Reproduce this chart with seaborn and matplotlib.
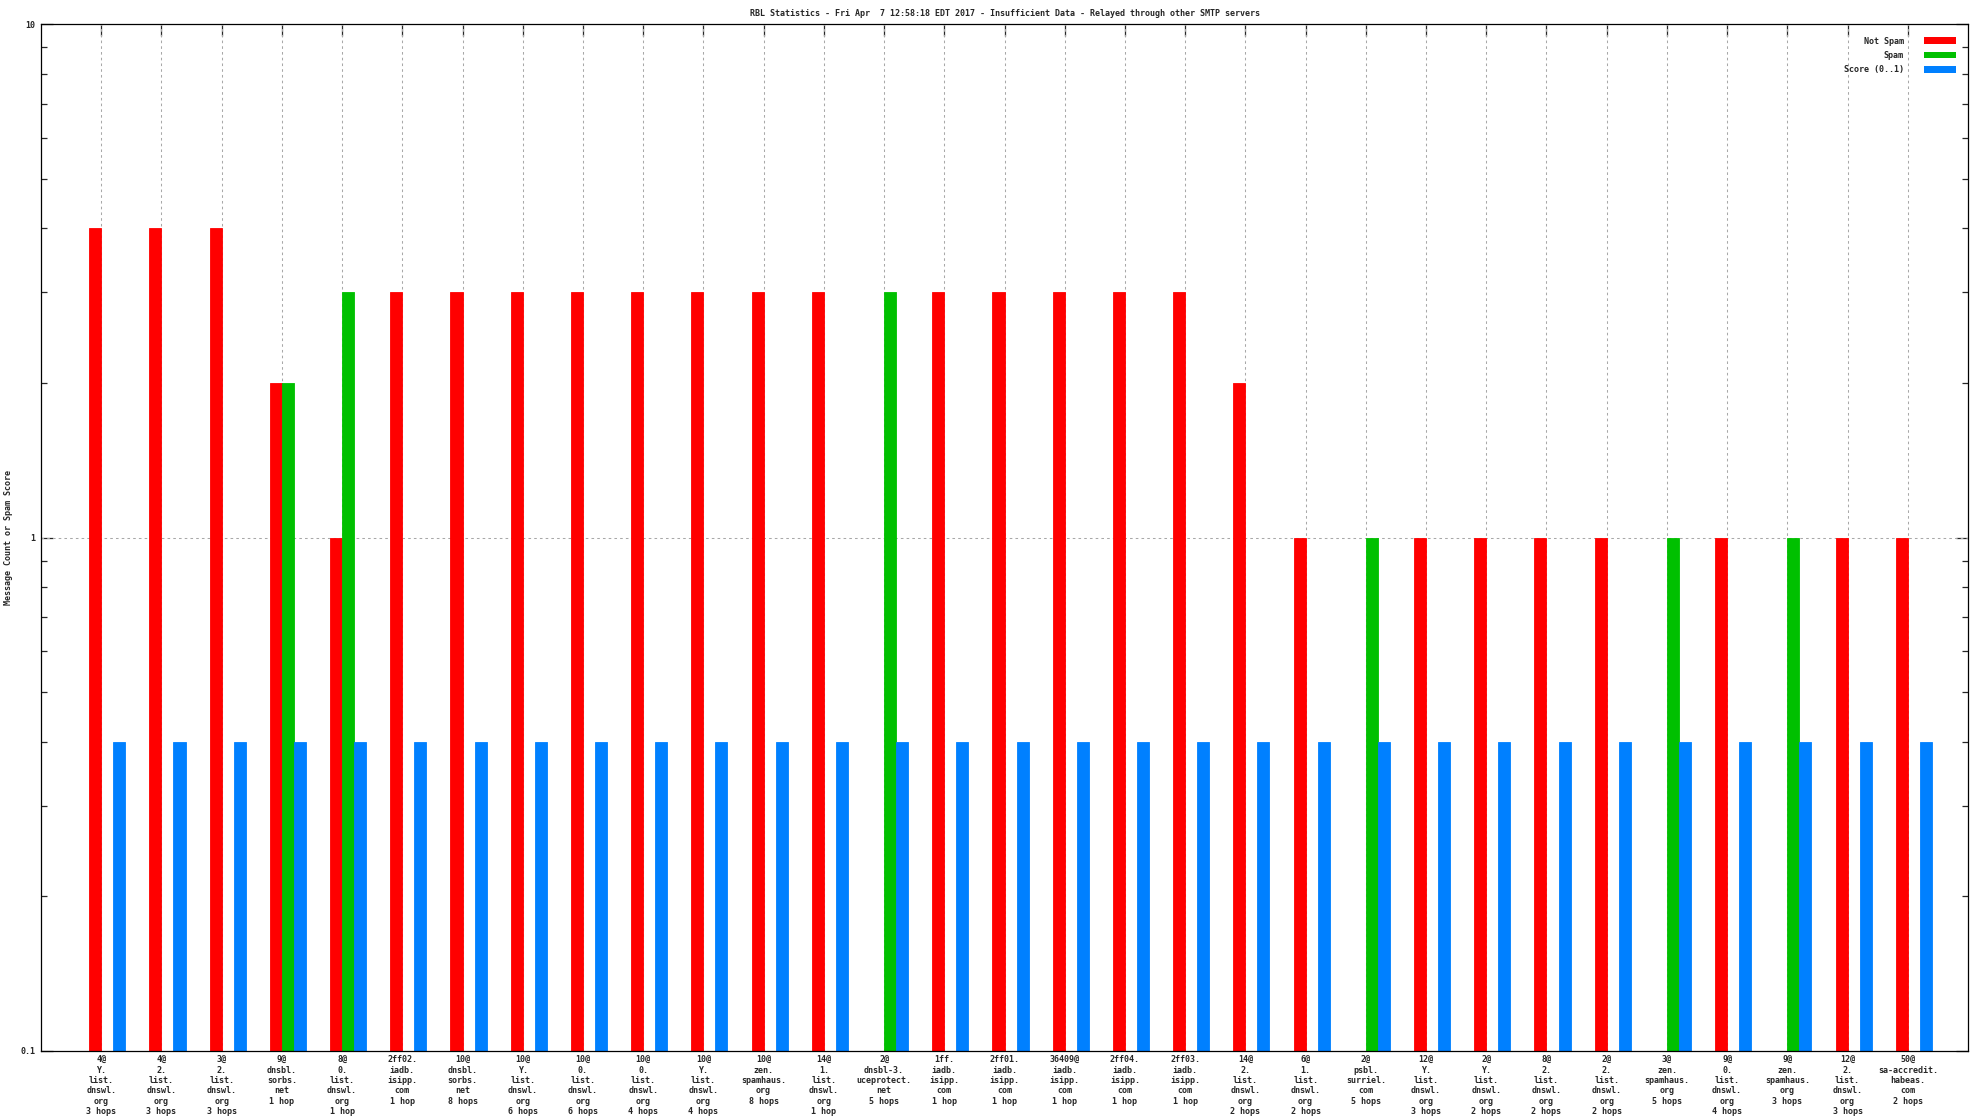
import numpy as np
import pandas as pd
import matplotlib
matplotlib.use("Agg")
import matplotlib.pyplot as plt
import seaborn as sns
from matplotlib.patches import Patch
from matplotlib.ticker import LogLocator, FixedLocator, FuncFormatter

# tick labels (one per blocklist / hop combination)
categories = [
    "4@\nY.\nlist.\ndnswl.\norg\n3 hops",
    "4@\n2.\nlist.\ndnswl.\norg\n3 hops",
    "3@\n2.\nlist.\ndnswl.\norg\n3 hops",
    "9@\ndnsbl.\nsorbs.\nnet\n1 hop",
    "8@\n0.\nlist.\ndnswl.\norg\n1 hop",
    "2ff02.\niadb.\nisipp.\ncom\n1 hop",
    "10@\ndnsbl.\nsorbs.\nnet\n8 hops",
    "10@\nY.\nlist.\ndnswl.\norg\n6 hops",
    "10@\n0.\nlist.\ndnswl.\norg\n6 hops",
    "10@\n0.\nlist.\ndnswl.\norg\n4 hops",
    "10@\nY.\nlist.\ndnswl.\norg\n4 hops",
    "10@\nzen.\nspamhaus.\norg\n8 hops",
    "14@\n1.\nlist.\ndnswl.\norg\n1 hop",
    "2@\ndnsbl-3.\nuceprotect.\nnet\n5 hops",
    "1ff.\niadb.\nisipp.\ncom\n1 hop",
    "2ff01.\niadb.\nisipp.\ncom\n1 hop",
    "36409@\niadb.\nisipp.\ncom\n1 hop",
    "2ff04.\niadb.\nisipp.\ncom\n1 hop",
    "2ff03.\niadb.\nisipp.\ncom\n1 hop",
    "14@\n2.\nlist.\ndnswl.\norg\n2 hops",
    "6@\n1.\nlist.\ndnswl.\norg\n2 hops",
    "2@\npsbl.\nsurriel.\ncom\n5 hops",
    "12@\nY.\nlist.\ndnswl.\norg\n3 hops",
    "2@\nY.\nlist.\ndnswl.\norg\n2 hops",
    "8@\n2.\nlist.\ndnswl.\norg\n2 hops",
    "2@\n2.\nlist.\ndnswl.\norg\n2 hops",
    "3@\nzen.\nspamhaus.\norg\n5 hops",
    "9@\n0.\nlist.\ndnswl.\norg\n4 hops",
    "9@\nzen.\nspamhaus.\norg\n3 hops",
    "12@\n2.\nlist.\ndnswl.\norg\n3 hops",
    "50@\nsa-accredit.\nhabeas.\ncom\n2 hops",
]

# 0 = no bar
not_spam = [4, 4, 4, 2, 1, 3, 3, 3, 3, 3, 3, 3, 3, 0, 3, 3, 3, 3, 3, 2,
            1, 0, 1, 1, 1, 1, 0, 1, 0, 1, 1]
spam = [0, 0, 0, 2, 3, 0, 0, 0, 0, 0, 0, 0, 0, 3, 0, 0, 0, 0, 0, 0,
        0, 1, 0, 0, 0, 0, 1, 0, 1, 0, 0]
score = [0.4] * 31

series_names = ["Not Spam", "Spam", "Score (0..1)"]
series_colors = ["#ff0000", "#00c000", "#0080ff"]

title = ("RBL Statistics - Fri Apr  7 12:58:18 EDT 2017 - "
         "Insufficient Data - Relayed through other SMTP servers")

sns.set_style("white")
plt.rcParams["font.family"] = ["DejaVu Sans Mono"]
plt.rcParams["font.size"] = 6

fig = plt.figure(figsize=(19.84, 11.16), dpi=100)
ax = fig.add_axes([41 / 1984, 1 - 1051 / 1116, (1968 - 41) / 1984, (1051 - 24) / 1116])

pos = np.arange(len(categories))
offsets = [-0.1, 0.1, 0.3]
for vals, off, col in zip([not_spam, spam, score], offsets, series_colors):
    d = pd.DataFrame({"x": pos + off, "y": vals})
    d = d[d["y"] > 0]
    sns.barplot(data=d, x="x", y="y", native_scale=True, width=0.2,
                color=col, saturation=1, linewidth=0.6, edgecolor=col,
                errorbar=None, ax=ax)

# bars on top of the dotted grid
for p in ax.patches:
    p.set_zorder(3)

ax.set_yscale("log")
ax.set_ylim(0.1, 10)
ax.set_xlim(-1, 31)

# grid
for p in pos:
    ax.axvline(p, color="#a8a8a8", lw=0.75, ls=(0, (2.5, 3)), zorder=1)
ax.axhline(1, color="#a8a8a8", lw=0.75, ls=(0, (2.5, 3)), zorder=1)

ax.xaxis.set_major_locator(FixedLocator(pos))
ax.set_xticklabels(categories)
for lbl in ax.get_xticklabels():
    lbl.set_linespacing(1.2)
    lbl.set_fontweight("bold")
ax.tick_params(axis="x", which="major", direction="in", top=True, bottom=False,
               labelbottom=True, length=8.5, width=0.9, pad=3, labelsize=6)

ax.yaxis.set_major_locator(LogLocator(base=10, numticks=5))
ax.yaxis.set_minor_locator(LogLocator(base=10, subs=np.arange(2, 10), numticks=20))
ax.yaxis.set_major_formatter(FuncFormatter(lambda v, _: "%g" % v))
ax.yaxis.set_minor_formatter(FuncFormatter(lambda v, _: ""))
ax.tick_params(axis="y", which="major", direction="in", left=True, right=True,
               length=8.5, width=0.9, pad=4, labelsize=6)
ax.tick_params(axis="y", which="minor", direction="in", left=True, right=True,
               length=4.3, width=0.9)
for lbl in ax.get_yticklabels():
    lbl.set_fontweight("bold")

for s in ax.spines.values():
    s.set_visible(True)
    s.set_color("black")
    s.set_linewidth(0.9)
    s.set_zorder(4)

ax.set_xlabel("")
ax.set_ylabel("Message Count or Spam Score", fontsize=6, labelpad=5,
              fontweight="bold")
ax.set_title(title, fontsize=6, pad=6, fontweight="bold")

handles = [Patch(facecolor=c, edgecolor="none") for c in series_colors]
leg = ax.legend(handles, series_names, loc="upper right", markerfirst=False,
                frameon=False, fontsize=6, handlelength=3.8, handleheight=0.8,
                handletextpad=2.4, labelspacing=0.65, borderpad=0.2,
                borderaxespad=1.3)
for t in leg.get_texts():
    t.set_fontweight("bold")

fig.savefig("out.png", dpi=100)
